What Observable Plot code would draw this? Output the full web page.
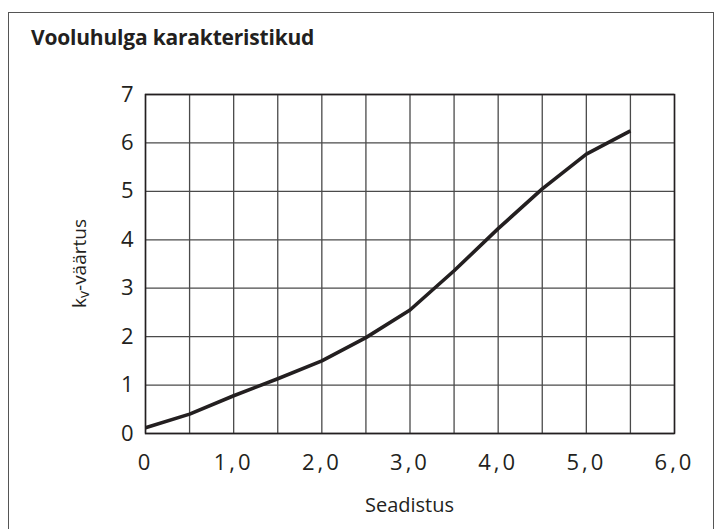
<!DOCTYPE html>
<html>
<head>
<meta charset="utf-8">
<script src="https://cdn.jsdelivr.net/npm/d3@7"></script>
<script src="https://cdn.jsdelivr.net/npm/@observablehq/plot@0.6"></script>
<style>
  html, body { margin: 0; padding: 0; background: #fff; }
  #wrap { position: relative; width: 723px; height: 529px; overflow: hidden; font-family: "Open Sans", sans-serif; }
  #box { position: absolute; left: 8px; top: 12px; width: 706px; height: 540px; border: 1.5px solid #555; box-sizing: border-box; }
  #title { position: absolute; left: 31px; top: 23px; font-size: 21px; font-weight: 700; color: #231f20; letter-spacing: -0.2px; white-space: nowrap; }
  #chart { position: absolute; left: 0; top: 0; }
</style>
</head>
<body>
<div id="wrap">
  <div id="box"></div>
  <div id="title">Vooluhulga karakteristikud</div>
  <div id="chart"></div>
</div>
<script>
const settings = [0, 0.5, 1.0, 1.5, 2.0, 2.5, 3.0, 3.5, 4.0, 4.5, 5.0, 5.5];
const kvValues = [0.12, 0.40, 0.78, 1.13, 1.50, 1.98, 2.55, 3.36, 4.23, 5.05, 5.77, 6.25];
const xTicks = [0, 1, 2, 3, 4, 5, 6];
const xTickLabels = ["0", "1,0", "2,0", "3,0", "4,0", "5,0", "6,0"];
const yTicks = [0, 1, 2, 3, 4, 5, 6, 7];
const yTickLabels = ["0", "1", "2", "3", "4", "5", "6", "7"];
const xGrid = [0, 0.5, 1, 1.5, 2, 2.5, 3, 3.5, 4, 4.5, 5, 5.5, 6];
const xLabel = "Seadistus";
const yLabelMain = "k";
const yLabelSub = "v";
const yLabelRest = "-väärtus";

const data = settings.map((s, i) => ({setting: s, kv: kvValues[i]}));

const plot = Plot.plot({
  width: 723,
  height: 529,
  marginLeft: 145,
  marginRight: 49,
  marginTop: 94,
  marginBottom: 96,
  style: { fontFamily: "'Open Sans', sans-serif", fontSize: "22px", color: "#231f20", background: "transparent" },
  x: { domain: [0, 6], label: null },
  y: { domain: [0, 7], label: null },
  marks: [
    Plot.gridX(xGrid, { stroke: "#4a4a4a", strokeOpacity: 1, strokeWidth: 1.3 }),
    Plot.gridY(yTicks, { stroke: "#4a4a4a", strokeOpacity: 1, strokeWidth: 1.3 }),
    Plot.axisX({ ticks: xTicks, tickSize: 0, tickPadding: 21, tickFormat: d => xTickLabels[xTicks.indexOf(d)], fontSize: 22, label: null }),
    Plot.axisY({ ticks: yTicks, tickSize: 0, tickPadding: 12, tickFormat: d => yTickLabels[yTicks.indexOf(d)], fontSize: 22, label: null }),
    Plot.frame({ stroke: "#231f20", strokeWidth: 1.5 }),
    Plot.line(data, { x: "setting", y: "kv", stroke: "#231f20", strokeWidth: 3.6, strokeLinecap: "butt", strokeLinejoin: "round" })
  ]
});

document.getElementById("chart").appendChild(plot);

d3.select(plot).selectAll("[aria-label='x-axis tick label'] text").attr("letter-spacing", "3px");

const svg = d3.select(plot);
const cx = (145 + (723 - 49)) / 2;
svg.append("text")
  .attr("x", cx).attr("y", 512)
  .attr("text-anchor", "middle")
  .attr("font-size", 20)
  .attr("fill", "#231f20")
  .text(xLabel);

const cy = (94 + (529 - 96)) / 2;
const yl = svg.append("text")
  .attr("transform", `translate(86,${cy}) rotate(-90)`)
  .attr("text-anchor", "middle")
  .attr("font-size", 19)
  .attr("fill", "#231f20");
yl.append("tspan").text(yLabelMain);
yl.append("tspan").attr("font-size", 14).attr("dy", 3).text(yLabelSub);
yl.append("tspan").attr("dy", -3).text(yLabelRest);
</script>
</body>
</html>
